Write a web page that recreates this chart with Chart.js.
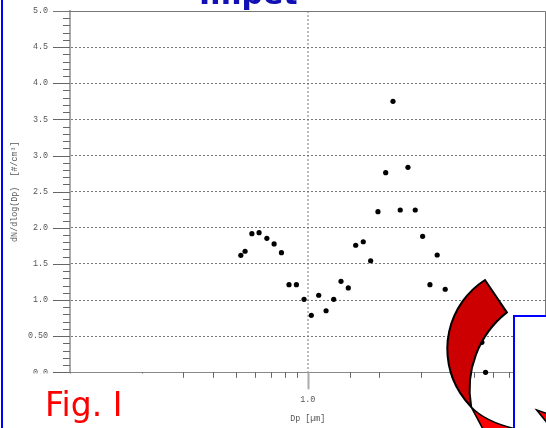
<!DOCTYPE html>
<html>
<head>
<meta charset="utf-8">
<style>
html, body { margin: 0; padding: 0; background: #fff; overflow: hidden; }
canvas { display: block; }
</style>
<script src="https://cdn.jsdelivr.net/npm/chart.js@4/dist/chart.umd.min.js"></script>
</head>
<body>
<canvas id="grafico" width="546" height="428"></canvas>
<script>
// valores
const dpValues = [0.523, 0.545, 0.582, 0.624, 0.673, 0.722, 0.775, 0.834, 0.896, 0.965, 1.035, 1.112, 1.194, 1.286, 1.380, 1.481, 1.591, 1.712, 1.839, 1.974, 2.127, 2.283, 2.449, 2.639, 2.832, 3.042, 3.265, 3.503, 3.786, 5.400, 5.597];
const dndlogValues = [1.619, 1.675, 1.918, 1.932, 1.854, 1.776, 1.655, 1.212, 1.212, 1.010, 0.789, 1.066, 0.852, 1.010, 1.259, 1.167, 1.758, 1.807, 1.544, 2.223, 2.762, 3.750, 2.246, 2.837, 2.246, 1.882, 1.212, 1.623, 1.149, 0.415, 0];
const yTickLabels = ['0.0', '0.50', '1.0', '1.5', '2.0', '2.5', '3.0', '3.5', '4.0', '4.5', '5.0'];
const xTickLabels = ['1.0'];

const monoFont = { family: '"Liberation Mono", monospace', size: 8.4 };
const isMajorY = v => Math.round(v * 10) % 5 === 0;
const isOne = v => Math.abs(v - 1) < 1e-6;

// sem isso o padding dos ticks encolhe a area do grafico
function fixaScale(s, w, h) {
    if (w) s.width = w;
    if (h) s.height = h;
    s.paddingLeft = s.paddingRight = s.paddingTop = s.paddingBottom = 0;
}

// marcas dos eixos, linhas de moldura e desenhos por cima do grafico
const decoracao = {
    id: 'decoracao',
    afterDraw(chart) {
        const c = chart.ctx;
        const area = chart.chartArea;
        const sx = chart.scales.x;
        const sy = chart.scales.y;
        c.save();

        // ticks do eixo y
        c.lineWidth = 1;
        c.strokeStyle = '#666';
        sy.ticks.forEach(t => {
            const p = Math.round(sy.getPixelForValue(t.value)) + 0.5;
            c.beginPath();
            c.moveTo(area.left - (isMajorY(t.value) ? 17 : 7), p);
            c.lineTo(area.left, p);
            c.stroke();
        });

        // ticks do eixo x
        sx.ticks.forEach(t => {
            const p = Math.round(sx.getPixelForValue(t.value)) + 0.5;
            c.strokeStyle = isOne(t.value) ? '#aaa' : '#666';
            c.lineWidth = isOne(t.value) ? 2 : 1;
            c.beginPath();
            c.moveTo(p, area.bottom);
            c.lineTo(p, area.bottom + (isOne(t.value) ? 17 : 5.5));
            c.stroke();
        });

        // moldura de cima e da direita
        c.strokeStyle = '#777';
        c.lineWidth = 1;
        c.beginPath();
        c.moveTo(area.left - 17, 11.5);
        c.lineTo(545.5, 11.5);
        c.lineTo(545.5, 372.5);
        c.stroke();

        // caixa branca do rotulo
        c.fillStyle = '#fff';
        c.fillRect(3, 373.5, 177, 55);
        c.fillStyle = '#ff0000';
        c.font = '33px "DejaVu Sans"';
        c.fillText('Fig. I', 45, 416);

        // titulo cortado
        c.fillStyle = '#1010b4';
        c.font = 'bold 30px "DejaVu Sans"';
        c.fillText('Impet', 199, 4);

        // borda azul esquerda
        c.fillStyle = '#0000ff';
        c.fillRect(1, 0, 2, 428);

        // seta: parte clara
        c.strokeStyle = '#000';
        c.lineWidth = 1.5;
        c.fillStyle = '#ff0000';
        c.beginPath();
        c.moveTo(471, 406.7);
        c.quadraticCurveTo(485, 421.7, 516, 429);
        c.lineTo(484, 431);
        c.closePath();
        c.fill();
        c.stroke();

        // seta: parte escura
        c.lineWidth = 2;
        c.fillStyle = '#cc0000';
        c.beginPath();
        c.arc(529.3, 349, 82, 237.3 * Math.PI / 180, 135.3 * Math.PI / 180, true);
        c.arc(567.6, 389.3, 98, 169.8 * Math.PI / 180, 231.7 * Math.PI / 180, false);
        c.closePath();
        c.fill();
        c.stroke();

        // caixa azul
        c.fillStyle = '#fff';
        c.fillRect(514, 316, 40, 120);
        c.strokeStyle = '#0000ff';
        c.lineWidth = 2;
        c.strokeRect(514, 316, 40, 120);

        // ponta da seta
        c.strokeStyle = '#000';
        c.lineWidth = 1.5;
        c.fillStyle = '#ff0000';
        c.beginPath();
        c.moveTo(536.7, 410);
        c.lineTo(548, 414);
        c.lineTo(548, 424);
        c.closePath();
        c.fill();
        c.stroke();

        c.restore();
    }
};

new Chart(document.getElementById('grafico').getContext('2d'), {
    type: 'scatter',
    data: {
        datasets: [{
            data: dpValues.map((x, i) => ({ x: x, y: dndlogValues[i] })),
            backgroundColor: '#000',
            borderColor: '#000',
            pointRadius: 2.6,
            pointBorderWidth: 0,
            clip: false
        }]
    },
    options: {
        responsive: false,
        animation: false,
        devicePixelRatio: 1,
        layout: { autoPadding: false, padding: { top: 11, right: 0.5, left: 0, bottom: 0 } },
        plugins: { legend: { display: false }, tooltip: { enabled: false } },
        scales: {
            x: {
                type: 'logarithmic',
                min: 0.1,
                max: 10,
                afterFit: s => fixaScale(s, 0, 55.7),
                border: { color: '#888', width: 1, dash: [2, 2] },
                grid: {
                    drawTicks: false,
                    lineWidth: 2,
                    color: ctx => isOne(ctx.tick.value) ? '#bbb' : 'transparent'
                },
                ticks: {
                    autoSkip: false,
                    maxRotation: 0,
                    padding: 22,
                    color: '#555',
                    font: monoFont,
                    callback: v => isOne(v) ? xTickLabels[0] : ''
                },
                title: {
                    display: true,
                    text: 'Dp [µm]',
                    color: '#555',
                    font: monoFont,
                    padding: { top: 0, bottom: 4 }
                }
            },
            y: {
                min: 0,
                max: 5,
                afterFit: s => fixaScale(s, 70, 0),
                border: { color: '#aaa', width: 2, dash: [2, 2] },
                grid: {
                    drawTicks: false,
                    lineWidth: 1,
                    color: ctx => isMajorY(ctx.tick.value) ? '#777' : 'transparent'
                },
                ticks: {
                    stepSize: 0.1,
                    autoSkip: false,
                    padding: 22,
                    color: '#555',
                    font: monoFont,
                    callback: v => isMajorY(v) ? yTickLabels[Math.round(v * 2)] : ''
                },
                title: {
                    display: true,
                    text: 'dN/dlog(Dp)  [#/cm³]',
                    color: '#555',
                    font: monoFont,
                    padding: { top: 10, bottom: 0 }
                }
            }
        }
    },
    plugins: [decoracao]
});
</script>
</body>
</html>
